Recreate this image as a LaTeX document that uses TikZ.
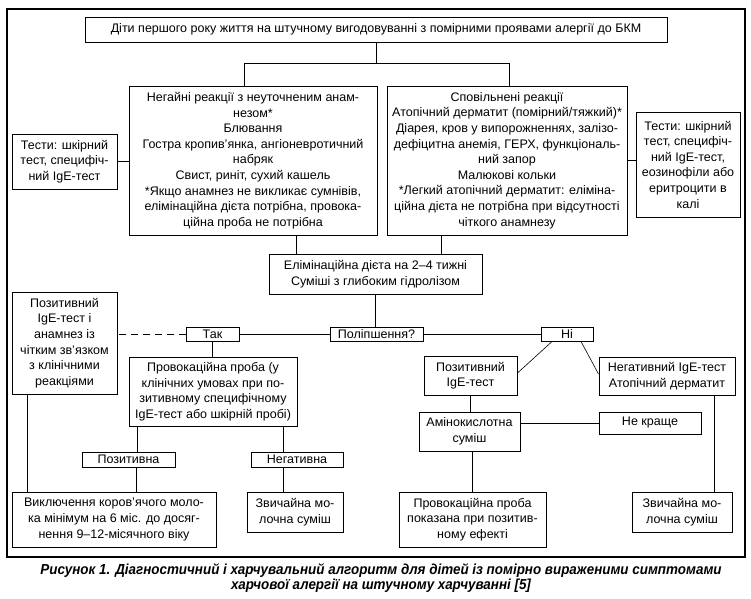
\documentclass[tikz,border=0pt]{standalone}
\usepackage{fontspec}
\setmainfont{Liberation Sans}[FakeStretch=1.01]
\newfontfamily\capfont{Liberation Sans}[FakeStretch=0.925]
\begin{document}
\begin{tikzpicture}[x=1pt,y=-1pt,
  box/.style={draw, line width=1pt, inner sep=0pt, align=center,
    font=\fontsize{12.4}{15.6}\selectfont},
  ln/.style={line width=0.9pt},
  thin/.style={line width=0.6pt}]
\useasboundingbox (0,0) rectangle (751,598);
\draw[line width=1.1pt] (7,9) rectangle (745,557);
% boxes
\node[box, minimum width=582, minimum height=25] (top) at (376,29.5) {Діти першого року життя на штучному вигодовуванні з помірними проявами алергії до БКМ};
\node[box, minimum width=248, minimum height=149] (imm) at (253,160.5) {Негайні реакції з неуточненим анам-\\незом*\\Блювання\\Гостра кропив’янка, ангіоневротичний\\набряк\\Свист, риніт, сухий кашель\\*Якщо анамнез не викликає сумнівів,\\елімінаційна дієта потрібна, провока-\\ційна проба не потрібна};
\node[box, minimum width=240, minimum height=149] (del) at (507,160.5) {Сповільнені реакції\\Атопічний дерматит (помірний/тяжкий)*\\Діарея, кров у випорожненнях, залізо-\\дефіцитна анемія, ГЕРХ, функціональ-\\ний запор\\Малюкові кольки\\*Легкий атопічний дерматит: еліміна-\\ційна дієта не потрібна при відсутності\\чіткого анамнезу};
\node[box, minimum width=105, minimum height=55] (testL) at (64.5,161.5) {Тести: шкірний\\тест, специфіч-\\ний IgE-тест};
\node[box, minimum width=104, minimum height=105] (testR) at (688,164.5) {Тести: шкірний\\тест, специфіч-\\ний IgE-тест,\\еозинофіли або\\еритроцити в\\калі};
\node[box, minimum width=213, minimum height=40] (elim) at (375.5,274) {Елімінаційна дієта на 2–4 тижні\\Суміші з глибоким гідролізом};
\node[box, minimum width=105, minimum height=102] (posL) at (64.5,343) {Позитивний\\IgE-тест і\\анамнез із\\чітким зв’язком\\з клінічними\\реакціями};
\node[box, minimum width=53, minimum height=14] (tak) at (212.5,334) {Так};
\node[box, minimum width=93, minimum height=14] (polip) at (376.5,334) {Поліпшення?};
\node[box, minimum width=52, minimum height=14] (ni) at (567,334) {Ні};
\node[box, minimum width=168, minimum height=69] (prov) at (213,391.5) {Провокаційна проба (у\\клінічних умовах при по-\\зитивному специфічному\\IgE-тест або шкірній пробі)};
\node[box, minimum width=93, minimum height=39] (posIgE) at (470.5,375.5) {Позитивний\\IgE-тест};
\node[box, minimum width=136, minimum height=38] (negIgE) at (667,376) {Негативний IgE-тест\\Атопічний дерматит};
\node[box, minimum width=101, minimum height=39] (amino) at (469.5,431.5) {Амінокислотна\\суміш};
\node[box, minimum width=102, minimum height=22] (nekr) at (650,423) {Не краще};
\node[box, minimum width=93, minimum height=15] (pozna) at (128.5,459.5) {Позитивна};
\node[box, minimum width=92, minimum height=15] (negna) at (297,459.5) {Негативна};
\node[box, minimum width=204, minimum height=55] (excl) at (114,519.5) {Виключення коров’ячого моло-\\ка мінімум на 6 міс. до досяг-\\нення 9–12-місячного віку};
\node[box, minimum width=96, minimum height=40] (zvL) at (295,512) {Звичайна мо-\\лочна суміш};
\node[box, minimum width=147, minimum height=55] (provPos) at (472.5,519.5) {Провокаційна проба\\показана при позитив-\\ному ефекті};
\node[box, minimum width=100, minimum height=40] (zvR) at (682,512) {Звичайна мо-\\лочна суміш};
% caption
\node[font=\capfont\bfseries\itshape\fontsize{14.5}{15.5}\selectfont, inner sep=0pt, align=center] (cap) at (381,578) {Рисунок 1. Діагностичний і харчувальний алгоритм для дітей із помірно вираженими симптомами\\харчової алергії на штучному харчуванні [5]};
% connectors
\coordinate (bl) at (244,63);
\coordinate (br) at (509,63);
\draw[ln] (top.south) -- (top.south |- bl);
\draw[ln] (bl |- imm.north) -- (bl) -- (br) -- (br |- del.north);
\draw[ln] (testL.east) -- (testL.east -| imm.west);
\draw[ln] (del.east) -- (del.east -| testR.west);
\draw[ln] ([xshift=43pt]imm.south) -- ([xshift=43pt]imm.south |- elim.north);
\draw[ln] ([xshift=-66pt]del.south) -- ([xshift=-66pt]del.south |- elim.north);
\draw[ln] (elim.south) -- (elim.south |- polip.north);
\draw[ln] (polip.west) -- (tak.east);
\draw[ln] (polip.east) -- (ni.west);
\draw[ln, dashed, dash pattern=on 7pt off 5pt] (tak.west) -- (tak.west -| posL.east);
\draw[ln] (tak.south) -- (tak.south |- prov.north);
\draw[thin] ([xshift=-15pt]ni.south) -- ([yshift=2.5pt]posIgE.east);
\draw[thin] ([xshift=14pt]ni.south) -- ([yshift=2pt]negIgE.west);
\draw[ln] (posIgE.south) -- (posIgE.south |- amino.north);
\draw[ln] (nekr.west -| amino.east) -- (nekr.west);
\draw[ln] ([xshift=2.5pt]amino.south) -- ([xshift=2.5pt]amino.south |- provPos.north);
\draw[ln] ([xshift=47pt]negIgE.south) -- ([xshift=47pt]negIgE.south |- zvR.north);
\draw[ln] ([xshift=-37.5pt]posL.south) -- ([xshift=-37.5pt]posL.south |- excl.north);
\draw[ln] ([xshift=-76pt]prov.south) -- ([xshift=-76pt]prov.south |- pozna.north);
\draw[ln] ([xshift=70pt]prov.south) -- ([xshift=70pt]prov.south |- negna.north);
\draw[ln] ([xshift=7.5pt]pozna.south) -- ([xshift=7.5pt]pozna.south |- excl.north);
\draw[ln] ([xshift=-14pt]negna.south) -- ([xshift=-14pt]negna.south |- zvL.north);
\end{tikzpicture}
\end{document}
